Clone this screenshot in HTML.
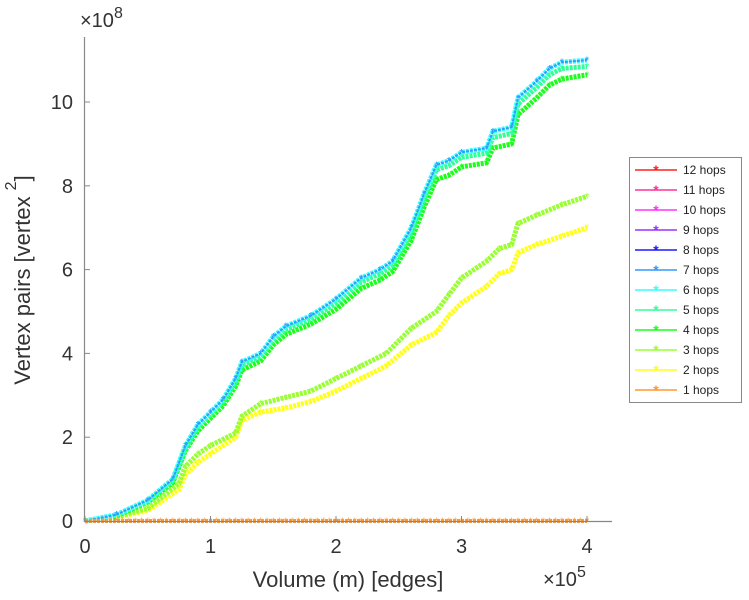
<!DOCTYPE html>
<html><head><meta charset="utf-8"><style>
body{margin:0;background:#fff;}
svg{display:block;font-family:"Liberation Sans",sans-serif;}
</style></head><body>
<svg id="chart" width="749" height="600"></svg>
<script>
const xs   = [0,0.25,0.5,0.7,0.8,0.9,1.0,1.1,1.2,1.25,1.4,1.5,1.6,1.8,2.0,2.2,2.35,2.45,2.6,2.7,2.8,2.9,3.0,3.2,3.25,3.4,3.45,3.6,3.7,3.8,4.0];
const top7 = [0,0.15,0.5,1.0,1.8,2.3,2.6,2.9,3.4,3.8,4.0,4.4,4.65,4.9,5.3,5.8,6.0,6.2,7.0,7.8,8.5,8.6,8.8,8.9,9.3,9.4,10.1,10.5,10.8,10.95,11.0];
const h5   = [0,0.14,0.48,0.97,1.75,2.25,2.55,2.85,3.33,3.72,3.93,4.33,4.57,4.82,5.2,5.7,5.9,6.1,6.88,7.68,8.38,8.48,8.68,8.78,9.15,9.25,9.95,10.35,10.65,10.8,10.85];
const h4   = [0,0.12,0.45,0.92,1.68,2.15,2.45,2.75,3.22,3.6,3.82,4.2,4.45,4.7,5.05,5.55,5.75,5.95,6.7,7.48,8.15,8.25,8.45,8.55,8.9,9.0,9.7,10.1,10.4,10.55,10.65];
const xs3  = [0,0.25,0.5,0.75,0.8,0.9,1.0,1.2,1.25,1.4,1.6,1.8,2.0,2.2,2.4,2.6,2.8,2.9,3.0,3.2,3.3,3.4,3.45,3.6,3.8,4.0];
const h3   = [0,0.1,0.3,0.9,1.3,1.6,1.8,2.1,2.5,2.8,2.95,3.1,3.4,3.7,4.0,4.6,5.0,5.4,5.8,6.2,6.5,6.6,7.1,7.3,7.55,7.75];
const h2   = [0,0.08,0.25,0.75,1.1,1.4,1.6,2.0,2.4,2.6,2.7,2.85,3.1,3.4,3.7,4.2,4.5,4.9,5.2,5.6,5.9,6.0,6.4,6.6,6.8,7.0];
const h1x  = [0,4.0];
const h1   = [0,0];
const xTicks = [0,1,2,3,4];
const yTicks = [0,2,4,6,8,10];
const legendLabels = ["12 hops","11 hops","10 hops","9 hops","8 hops","7 hops","6 hops","5 hops","4 hops","3 hops","2 hops","1 hops"];
const legendColors = ["#ff2020","#ff3399","#ff33ff","#9933ff","#1a1aff","#3399ff","#33ffff","#33ff99","#1aff1a","#99ff33","#ffff1a","#ff9933"];

const svg=document.getElementById('chart');
const NS='http://www.w3.org/2000/svg';
const X0=85, XS=125.5, Y0=521, YS=41.9;
const xf=v=>X0+v*XS, yf=v=>Y0-v*YS;
function mk(t,a){const e=document.createElementNS(NS,t);for(const k in a)e.setAttribute(k,a[k]);svg.appendChild(e);return e;}

function series(xArr,yArr,color,name,w){
  const p=xArr.map((x,i)=>xf(x).toFixed(1)+','+yf(yArr[i]).toFixed(1)).join(' ');
  const l=mk('polyline',{points:p,fill:'none',stroke:color,'stroke-width':w,'stroke-linejoin':'round','stroke-dasharray':'3 1'});
  
  
  xArr.forEach((x,i)=>{
    const c=mk('text',{x:xf(x),y:yf(yArr[i])+4,'font-size':11,fill:color,'text-anchor':'middle'});
    c.textContent='*';
    
    
  });
}
series(xs3,h2,'#ffff1a','series-2-hops',5);
series(xs3,h3,'#99ff33','series-3-hops',5);
series(xs,h4,'#1aff1a','series-4-hops',5);
series(xs,h5,'#33ff99','series-5-hops',5);
series(xs,top7,'#33ffff','series-6-hops',5);
series(xs,top7,'#3399ff','series-7-hops',2);
series(h1x,h1,'#ff9933','series-1-hops',4);
for(let v=0;v<=4;v+=0.05){const c=mk('text',{x:xf(v),y:Y0+4,'font-size':11,fill:'#ff9933','text-anchor':'middle'});c.textContent='*';

}

const ax=mk('path',{d:`M${X0-0.5},37 V${Y0+0.5} H612`,stroke:'#888',fill:'none','stroke-width':1.2});


xTicks.forEach(t=>{
  mk('line',{x1:xf(t),x2:xf(t),y1:Y0,y2:Y0-5,stroke:'#888'});
  const tx=mk('text',{x:xf(t),y:Y0+32,'font-size':20,fill:'#333','text-anchor':'middle'});tx.textContent=t;
  
  
});
yTicks.forEach(t=>{
  mk('line',{x1:X0,x2:X0+5,y1:yf(t),y2:yf(t),stroke:'#888'});
  const tx=mk('text',{x:X0-12,y:yf(t)+7,'font-size':20,fill:'#333','text-anchor':'end'});tx.textContent=t;
  
  
});
</script>
<svg width="749" height="600" style="position:absolute;left:0;top:0">
<text x="80" y="27" font-size="20" fill="#333" font-family="Liberation Sans,sans-serif">×10<tspan dy="-9" font-size="16">8</tspan></text>
<text x="543" y="586" font-size="20" fill="#333" font-family="Liberation Sans,sans-serif">×10<tspan dy="-9" font-size="16">5</tspan></text>
<text x="348" y="587" font-size="22" fill="#333" text-anchor="middle" font-family="Liberation Sans,sans-serif">Volume (m) [edges]</text>
<text transform="translate(30,280) rotate(-90)" font-size="22" fill="#333" text-anchor="middle" font-family="Liberation Sans,sans-serif">Vertex pairs [vertex <tspan dy="-14" font-size="16">2</tspan><tspan dy="14">]</tspan></text>
<g>
<rect x="629.5" y="157.5" width="112" height="245" fill="#fff" stroke="#888"/>
<g id="leg"></g>
</g>
</svg>
<script>
const lg=document.getElementById('leg');
legendLabels.forEach((lab,i)=>{
  const y=170+i*20;
  const g=document.createElementNS(NS,'g');
  
  
  g.innerHTML=`<line x1="635" x2="677" y1="${y}" y2="${y}" stroke="${legendColors[i]}" stroke-width="1.5"/><text x="656" y="${y+5}" font-size="14" font-weight="bold" fill="${legendColors[i]}" text-anchor="middle" font-family="Liberation Sans,sans-serif">*</text><text x="683" y="${y+4}" font-size="12" fill="#222" font-family="Liberation Sans,sans-serif">${lab}</text>`;
  lg.appendChild(g);
});
</script>
</body></html>
